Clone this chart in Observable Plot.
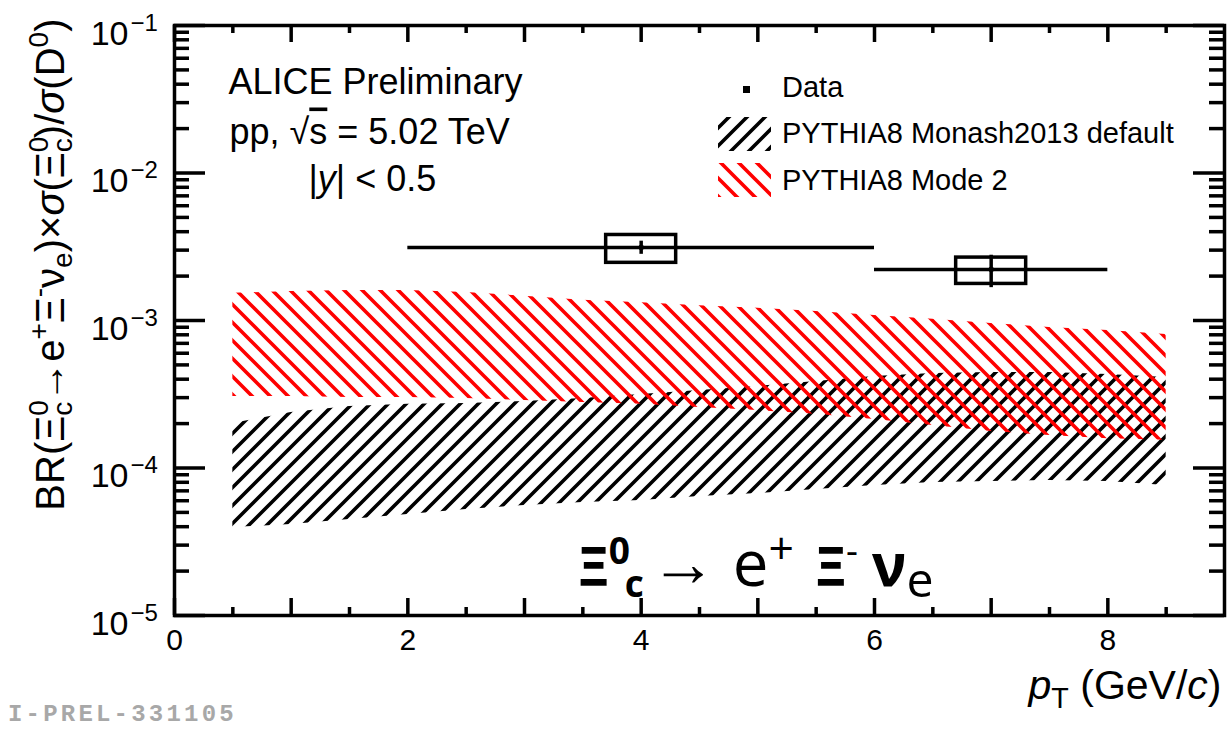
<!DOCTYPE html>
<html>
<head>
<meta charset="utf-8">
<script src="https://cdn.jsdelivr.net/npm/d3@7"></script>
<script src="https://cdn.jsdelivr.net/npm/@observablehq/plot@0.6"></script>
<style>
  body { margin: 0; background: #fff; }
  #chart svg { display: block; }
</style>
</head>
<body>
<div id="chart"></div>
<script>
// pT grid of the PYTHIA8 predictions (GeV/c)
const ptBins = [0.5, 1, 1.5, 2, 2.5, 3, 3.5, 4, 4.5, 5, 5.5, 6, 6.5, 7, 7.5, 8, 8.5];

// PYTHIA8 Monash2013 default: lower / upper edge of the band
const monashLow  = [3.95e-5, 4.14e-5, 4.48e-5, 4.84e-5, 5.24e-5, 5.57e-5, 5.83e-5, 6.02e-5, 6.41e-5,
                    6.72e-5, 7.15e-5, 7.60e-5, 7.97e-5, 8.10e-5, 8.22e-5, 8.10e-5, 7.60e-5];
const monashHigh = [2.00e-4, 2.38e-4, 2.61e-4, 2.70e-4, 2.74e-4, 2.82e-4, 2.96e-4, 3.15e-4, 3.35e-4,
                    3.57e-4, 3.86e-4, 4.17e-4, 4.37e-4, 4.44e-4, 4.44e-4, 4.30e-4, 4.11e-4];

// PYTHIA8 Mode 2: lower / upper edge of the band
const mode2Low  = [3.05e-4, 3.05e-4, 3.01e-4, 3.01e-4, 2.96e-4, 2.87e-4, 2.78e-4, 2.70e-4, 2.57e-4,
                   2.45e-4, 2.31e-4, 2.13e-4, 1.94e-4, 1.77e-4, 1.66e-4, 1.58e-4, 1.54e-4];
const mode2High = [1.53e-3, 1.57e-3, 1.60e-3, 1.60e-3, 1.55e-3, 1.46e-3, 1.37e-3, 1.32e-3, 1.26e-3,
                   1.21e-3, 1.15e-3, 1.08e-3, 1.02e-3, 9.54e-4, 8.97e-4, 8.55e-4, 8.04e-4];

// Measured points: bin centre, bin edges, value, statistical and systematic uncertainty
const dataPt     = [4, 7];
const dataPtLow  = [2, 6];
const dataPtHigh = [6, 8];
const dataValue  = [3.13e-3, 2.22e-3];
const dataStat   = [0.32e-3, 0.55e-3];
const dataSyst   = [0.67e-3, 0.45e-3];

// Axis ticks
const yDecades = [1e-5, 1e-4, 1e-3, 1e-2, 1e-1];
const xTickLabels = [0, 2, 4, 6, 8];

const W = 1229, H = 729;
const mL = 174, mR = 5, mT = 25, mB = 114;
const fw = W - mL - mR, fh = H - mT - mB;
const sysHalfWidth = 0.3;
const font = "'Liberation Sans', Arial, Helvetica, sans-serif";
const lw = 3.5;

const model = ptBins.map((pt, i) => ({
  pt, mLo: monashLow[i], mHi: monashHigh[i], rLo: mode2Low[i], rHi: mode2High[i]
}));
const points = dataPt.map((pt, i) => ({
  pt, lo: dataPtLow[i], hi: dataPtHigh[i], v: dataValue[i], stat: dataStat[i], syst: dataSyst[i]
}));

const yMinor = [];
for (const d of yDecades.slice(0, -1)) for (let k = 2; k <= 9; k++) yMinor.push(k * d);
const xMajor = d3.range(0, 9, 1);
const xMinor = d3.range(0.5, 9, 1);

const yTitle = "BR(Ξc0→e+Ξ-νe)×σ(Ξc0)/σ(D0)";
const xTitle = "pT (GeV/c)";
const energyLabel = "pp, √s = 5.02 TeV";
const rapidityLabel = "|y| < 0.5";
const decayLabel = "Ξ0c → e+ Ξ- νe";

const chart = Plot.plot({
  width: W, height: H,
  marginLeft: mL, marginRight: mR, marginTop: mT, marginBottom: mB,
  style: { fontFamily: font, background: "#fff", overflow: "visible", color: "black" },
  x: { domain: [0, 9], axis: null },
  y: { type: "log", domain: [1e-5, 1e-1], axis: null },
  marks: [
    // model bands
    Plot.areaY(model, { x: "pt", y1: "mLo", y2: "mHi", fill: "url(#hatch-monash)" }),
    Plot.areaY(model, { x: "pt", y1: "rLo", y2: "rHi", fill: "url(#hatch-mode2)" }),

    // data: bin width, systematic boxes, statistical bars, markers
    Plot.ruleY(points, { x1: "lo", x2: "hi", y: "v", stroke: "black", strokeWidth: lw }),
    Plot.rect(points, {
      x1: d => d.pt - sysHalfWidth, x2: d => d.pt + sysHalfWidth,
      y1: d => d.v - d.syst, y2: d => d.v + d.syst,
      fill: "none", stroke: "black", strokeWidth: lw
    }),
    Plot.ruleX(points, { x: "pt", y1: d => d.v - d.stat, y2: d => d.v + d.stat, stroke: "black", strokeWidth: lw }),
    Plot.dot(points, { x: "pt", y: "v", symbol: "square", r: 2.5, fill: "black" }),

    // inward ticks on all four sides
    Plot.tickY(yDecades, { y: d => d, insetRight: fw - 31, strokeWidth: lw }),
    Plot.tickY(yDecades, { y: d => d, insetLeft: fw - 31, strokeWidth: lw }),
    Plot.tickY(yMinor, { y: d => d, insetRight: fw - 15, strokeWidth: lw }),
    Plot.tickY(yMinor, { y: d => d, insetLeft: fw - 15, strokeWidth: lw }),
    Plot.tickX(xMajor, { x: d => d, insetTop: fh - 17, strokeWidth: lw }),
    Plot.tickX(xMajor, { x: d => d, insetBottom: fh - 17, strokeWidth: lw }),
    Plot.tickX(xMinor, { x: d => d, insetTop: fh - 8, strokeWidth: lw }),
    Plot.tickX(xMinor, { x: d => d, insetBottom: fh - 8, strokeWidth: lw }),
    Plot.frame({ stroke: "black", strokeWidth: lw }),

    // tick labels
    Plot.text(yDecades, { y: d => d, text: () => "10", frameAnchor: "left", textAnchor: "end",
      lineAnchor: "bottom", dx: -46, dy: 19, fontSize: 34 }),
    Plot.text(yDecades, { y: d => d, text: d => "−" + Math.round(-Math.log10(d)), frameAnchor: "left",
      textAnchor: "start", lineAnchor: "bottom", dx: -44, dy: 5, fontSize: 24 }),
    Plot.text(xTickLabels, { x: d => d, text: d => String(d), frameAnchor: "bottom",
      lineAnchor: "bottom", dy: 34, fontSize: 30 }),

    // axis titles
    Plot.text([yTitle], { text: d => d, frameAnchor: "top-left", rotate: -90, textAnchor: "end",
      lineAnchor: "bottom", dx: -111, dy: -7, fontSize: 40 }),
    Plot.text([xTitle], { text: d => d, frameAnchor: "bottom-right", textAnchor: "end",
      lineAnchor: "bottom", dx: -3, dy: 83, fontSize: 41 }),

    // collision system labels
    Plot.text(["ALICE Preliminary"], { text: d => d, frameAnchor: "top-left", textAnchor: "start",
      lineAnchor: "bottom", dx: 54, dy: 68, fontSize: 36 }),
    Plot.text([energyLabel], { text: d => d, frameAnchor: "top-left", textAnchor: "start",
      lineAnchor: "bottom", dx: 55, dy: 118, fontSize: 36 }),
    Plot.text([rapidityLabel], { text: d => d, frameAnchor: "top-left", textAnchor: "start",
      lineAnchor: "bottom", dx: 134, dy: 165, fontSize: 36 }),

    // decay channel
    Plot.text([decayLabel], { text: d => d, frameAnchor: "bottom-left", textAnchor: "start",
      lineAnchor: "bottom", dx: 404, dy: -30, fontSize: 53,
      fontFamily: "'Open Sans', 'Noto Sans', sans-serif" })
  ]
});

const svg = d3.select(chart);

// hatch fill patterns for the model bands
const defs = svg.insert("defs", ":first-child");
function hatch(id, color, path) {
  defs.append("pattern")
    .attr("id", id).attr("patternUnits", "userSpaceOnUse")
    .attr("width", 18).attr("height", 18)
    .append("path").attr("d", path)
    .attr("stroke", color).attr("stroke-width", 3.6).attr("fill", "none");
}
hatch("hatch-monash", "black", "M-4.5,4.5L4.5,-4.5M0,18L18,0M13.5,22.5L22.5,13.5");
hatch("hatch-mode2", "#ff0000", "M-4.5,13.5L4.5,22.5M0,0L18,18M13.5,-4.5L22.5,4.5");

// rich text with sub- and superscripts
function findText(str) {
  return svg.selectAll("text").filter(function () { return this.textContent === str; });
}
function rich(str, size, parts) {
  const text = findText(str);
  if (text.empty()) return text;
  text.text(null);
  let shift = 0;
  for (const p of parts) {
    const s = typeof p === "string" ? { t: p } : p;
    let target = 0, fs = size * (s.scale || 1);
    if (s.sup) { target = -0.40 * size; fs = 0.7 * size * (s.scale || 1); }
    if (s.sub) { target = 0.22 * size; fs = 0.7 * size * (s.scale || 1); }
    const ts = text.append("tspan").text(s.t).attr("font-size", fs);
    if (target - shift !== 0) ts.attr("dy", target - shift);
    if (s.dx) ts.attr("dx", s.dx * size);
    if (s.it) ts.attr("font-style", "italic");
    if (s.bf) ts.attr("font-weight", "bold");
    if (s.over) ts.attr("text-decoration", "overline");
    shift = target;
  }
  return text;
}

rich(yTitle, 40, [
  "BR(Ξ", { t: "0", sup: true }, { t: "c", sub: true, dx: -0.39 }, "→e", { t: "+", sup: true },
  "Ξ", { t: "-", sup: true }, "ν", { t: "e", sub: true }, ")×", { t: "σ", it: true }, "(Ξ",
  { t: "0", sup: true }, { t: "c", sub: true, dx: -0.39 }, ")/", { t: "σ", it: true }, "(D",
  { t: "0", sup: true }, ")"
]);
rich(xTitle, 41, [{ t: "p", it: true }, { t: "T", sub: true }, " (GeV/", { t: "c", it: true }, ")"]);
rich(energyLabel, 36, ["pp, √", { t: "s", over: true }, " = 5.02 TeV"]);
rich(rapidityLabel, 36, ["|", { t: "y", it: true }, "| < 0.5"]);
rich(decayLabel, 53, [
  { t: "Ξ", bf: true }, { t: "0", sup: true, bf: true }, { t: "c", sub: true, bf: true, dx: -0.1 },
  { t: "→", scale: 1.25, dx: 0.12 }, { t: " e", scale: 1.2 }, { t: "+", sup: true, scale: 1.2 }, " ",
  { t: "Ξ", bf: true, dx: 0.15 }, { t: "-", sup: true }, " ", { t: "ν", bf: true, scale: 1.1 },
  { t: "e", sub: true, scale: 1.3 }
]);

// legend
const legend = svg.append("g").attr("font-family", font).attr("font-size", 29).attr("text-anchor", "start");
const lx = 718, tx = 782;
legend.append("rect").attr("x", 743).attr("y", 86).attr("width", 7).attr("height", 7).attr("fill", "black");
legend.append("text").attr("x", tx).attr("y", 97).text("Data");
legend.append("rect").attr("x", lx).attr("y", 117).attr("width", 53).attr("height", 34).attr("fill", "url(#hatch-monash)");
legend.append("text").attr("x", tx).attr("y", 143).text("PYTHIA8 Monash2013 default");
legend.append("rect").attr("x", lx).attr("y", 163).attr("width", 53).attr("height", 34).attr("fill", "url(#hatch-mode2)");
legend.append("text").attr("x", tx).attr("y", 190).text("PYTHIA8 Mode 2");

// preliminary figure identifier
svg.append("text").attr("x", 8).attr("y", 721).attr("text-anchor", "start")
  .attr("font-family", "'Liberation Mono', 'DejaVu Sans Mono', monospace")
  .attr("font-weight", "bold").attr("font-size", 24).attr("letter-spacing", 3.2).attr("fill", "#a8a8a8")
  .text("I-PREL-331105");

document.getElementById("chart").append(chart);
</script>
</body>
</html>
